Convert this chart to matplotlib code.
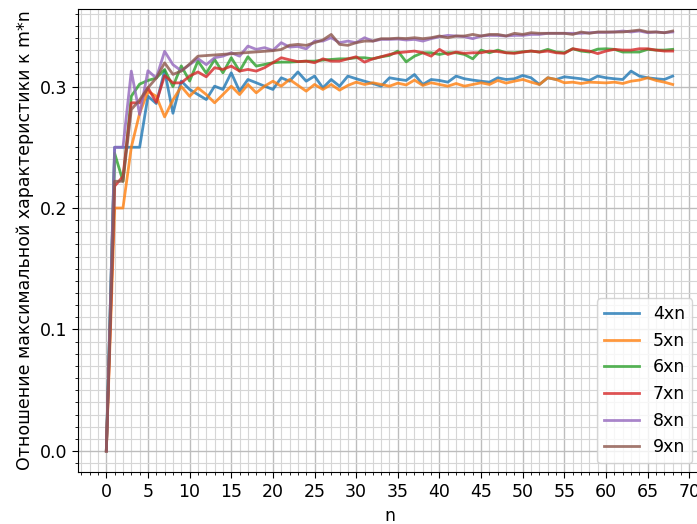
import matplotlib
matplotlib.use("Agg")
import matplotlib.pyplot as plt
from matplotlib.ticker import MultipleLocator

n = list(range(69))

# 4xn
s4 = [0, 0.25, 0.25, 0.25, 0.25, 0.292, 0.286, 0.313, 0.278, 0.3045,
      0.2976, 0.2934, 0.2893, 0.3003, 0.2976, 0.3113, 0.2962, 0.3058, 0.3031, 0.3003,
      0.2976, 0.3072, 0.3044, 0.312, 0.3044, 0.3086, 0.2989, 0.3058, 0.3003, 0.3086,
      0.3064, 0.3044, 0.3025, 0.3003, 0.3072, 0.306, 0.305, 0.3099, 0.3017, 0.3058,
      0.305, 0.3036, 0.3086, 0.3064, 0.3053, 0.3044, 0.3036, 0.3072, 0.3058, 0.3064,
      0.3091, 0.3072, 0.3017, 0.3072, 0.3058, 0.308, 0.3072, 0.3064, 0.305, 0.3086,
      0.3072, 0.3064, 0.3058, 0.3127, 0.3086, 0.3072, 0.3064, 0.3058, 0.3086]
# 5xn
s5 = [0, 0.2, 0.2, 0.25, 0.278, 0.296, 0.292, 0.275, 0.289, 0.3,
      0.292, 0.2989, 0.2934, 0.2866, 0.2934, 0.3003, 0.2934, 0.3017, 0.2948, 0.3003,
      0.3044, 0.3003, 0.3058, 0.301, 0.2962, 0.3017, 0.2976, 0.3017, 0.297, 0.3009,
      0.3036, 0.3017, 0.3031, 0.3017, 0.3003, 0.3028, 0.3013, 0.3053, 0.3009, 0.3031,
      0.3017, 0.3003, 0.3025, 0.3003, 0.3017, 0.3031, 0.3017, 0.305, 0.3028, 0.3044,
      0.3058, 0.3036, 0.3017, 0.3072, 0.3058, 0.3031, 0.3036, 0.3025, 0.3036, 0.3033,
      0.303, 0.3036, 0.3025, 0.3044, 0.3053, 0.3072, 0.305, 0.3036, 0.3017]
# 6xn
s6 = [0, 0.245, 0.222, 0.292, 0.302, 0.305, 0.307, 0.314, 0.3, 0.317,
      0.3045, 0.321, 0.311, 0.3223, 0.3113, 0.3237, 0.3127, 0.3245, 0.3168, 0.3182,
      0.3196, 0.3201, 0.3201, 0.3205, 0.3209, 0.3209, 0.3218, 0.3223, 0.3228, 0.3228,
      0.3237, 0.3237, 0.3228, 0.3245, 0.3256, 0.3292, 0.3203, 0.325, 0.3278, 0.3278,
      0.3264, 0.3278, 0.3278, 0.3264, 0.3228, 0.33, 0.3278, 0.33, 0.3278, 0.3278,
      0.3286, 0.3292, 0.3284, 0.3306, 0.3284, 0.3278, 0.3311, 0.3292, 0.3284, 0.3308,
      0.3311, 0.3306, 0.3284, 0.3284, 0.3284, 0.3306, 0.33, 0.33, 0.3306]
# 7xn
s7 = [0, 0.218, 0.226, 0.2866, 0.2866, 0.299, 0.287, 0.309, 0.303, 0.303,
      0.3086, 0.312, 0.308, 0.3155, 0.3141, 0.3168, 0.3127, 0.3141, 0.3127, 0.3155,
      0.3196, 0.3237, 0.322, 0.3205, 0.3209, 0.3196, 0.3228, 0.3209, 0.3209, 0.3228,
      0.3245, 0.3201, 0.3228, 0.3245, 0.3264, 0.3278, 0.3285, 0.3292, 0.3278, 0.325,
      0.3306, 0.3264, 0.3284, 0.3273, 0.3278, 0.3278, 0.3292, 0.3288, 0.3278, 0.3273,
      0.3284, 0.3292, 0.3284, 0.3292, 0.3278, 0.3273, 0.3311, 0.33, 0.3292, 0.3271,
      0.3292, 0.3306, 0.33, 0.33, 0.3311, 0.3311, 0.33, 0.3292, 0.3292]
# 8xn
s8 = [0, 0.25, 0.25, 0.3127, 0.277, 0.313, 0.307, 0.329, 0.318, 0.313,
      0.318, 0.323, 0.318, 0.3237, 0.325, 0.3278, 0.325, 0.3333, 0.3306, 0.332,
      0.3298, 0.3361, 0.3325, 0.333, 0.331, 0.3374, 0.3374, 0.3402, 0.3361, 0.3374,
      0.3361, 0.3402, 0.3374, 0.3388, 0.3388, 0.3391, 0.3383, 0.3388, 0.3374, 0.3394,
      0.341, 0.3421, 0.3416, 0.341, 0.3394, 0.3416, 0.3421, 0.342, 0.3416, 0.3421,
      0.3421, 0.3429, 0.3429, 0.3438, 0.3438, 0.3438, 0.3438, 0.3438, 0.3443, 0.3446,
      0.3446, 0.3449, 0.3457, 0.3449, 0.3457, 0.3443, 0.3449, 0.3443, 0.3449]
# 9xn
s9 = [0, 0.222, 0.222, 0.281, 0.289, 0.299, 0.307, 0.3195, 0.31, 0.3127,
      0.3185, 0.325, 0.3255, 0.326, 0.3265, 0.327, 0.3275, 0.328, 0.3285, 0.329,
      0.3295, 0.3305, 0.334, 0.3347, 0.3339, 0.3361, 0.3383, 0.3429, 0.3347, 0.3339,
      0.3361, 0.3374, 0.3374, 0.3394, 0.3394, 0.3398, 0.3395, 0.3402, 0.3394, 0.3402,
      0.3416, 0.3402, 0.3416, 0.3416, 0.3429, 0.3416, 0.3429, 0.3429, 0.3416, 0.3438,
      0.3429, 0.3443, 0.3438, 0.3438, 0.3438, 0.3438, 0.3429, 0.3449, 0.3438, 0.3449,
      0.3449, 0.3449, 0.3449, 0.3457, 0.3465, 0.3449, 0.3449, 0.3443, 0.3457]

series = [s4, s5, s6, s7, s8, s9]
labels = ["4xn", "5xn", "6xn", "7xn", "8xn", "9xn"]

plt.rcParams["font.size"] = 12.5

fig = plt.figure(figsize=(6.97, 5.24), dpi=100)
ax = fig.add_axes([78 / 697, 52 / 524, 623 / 697, 463 / 524])

for s, lab in zip(series, labels):
    ax.plot(n, s, linewidth=2, alpha=0.8, label=lab)

ax.set_xticks(range(0, 71, 5))
ax.xaxis.set_minor_locator(MultipleLocator(1))
ax.yaxis.set_major_locator(MultipleLocator(0.1))
ax.yaxis.set_minor_locator(MultipleLocator(0.01))
ax.grid(which="major", color="#bdbdbd", linewidth=1.0)
ax.grid(which="minor", color="#d6d6d6", linewidth=0.8)
ax.tick_params(which="major", length=4.5)
ax.tick_params(which="minor", length=2.5)

ax.set_xlabel("n")
ax.set_ylabel("Отношение максимальной характеристики к m*n")
ax.legend(loc="lower right")

fig.savefig("out.png", dpi=100)
